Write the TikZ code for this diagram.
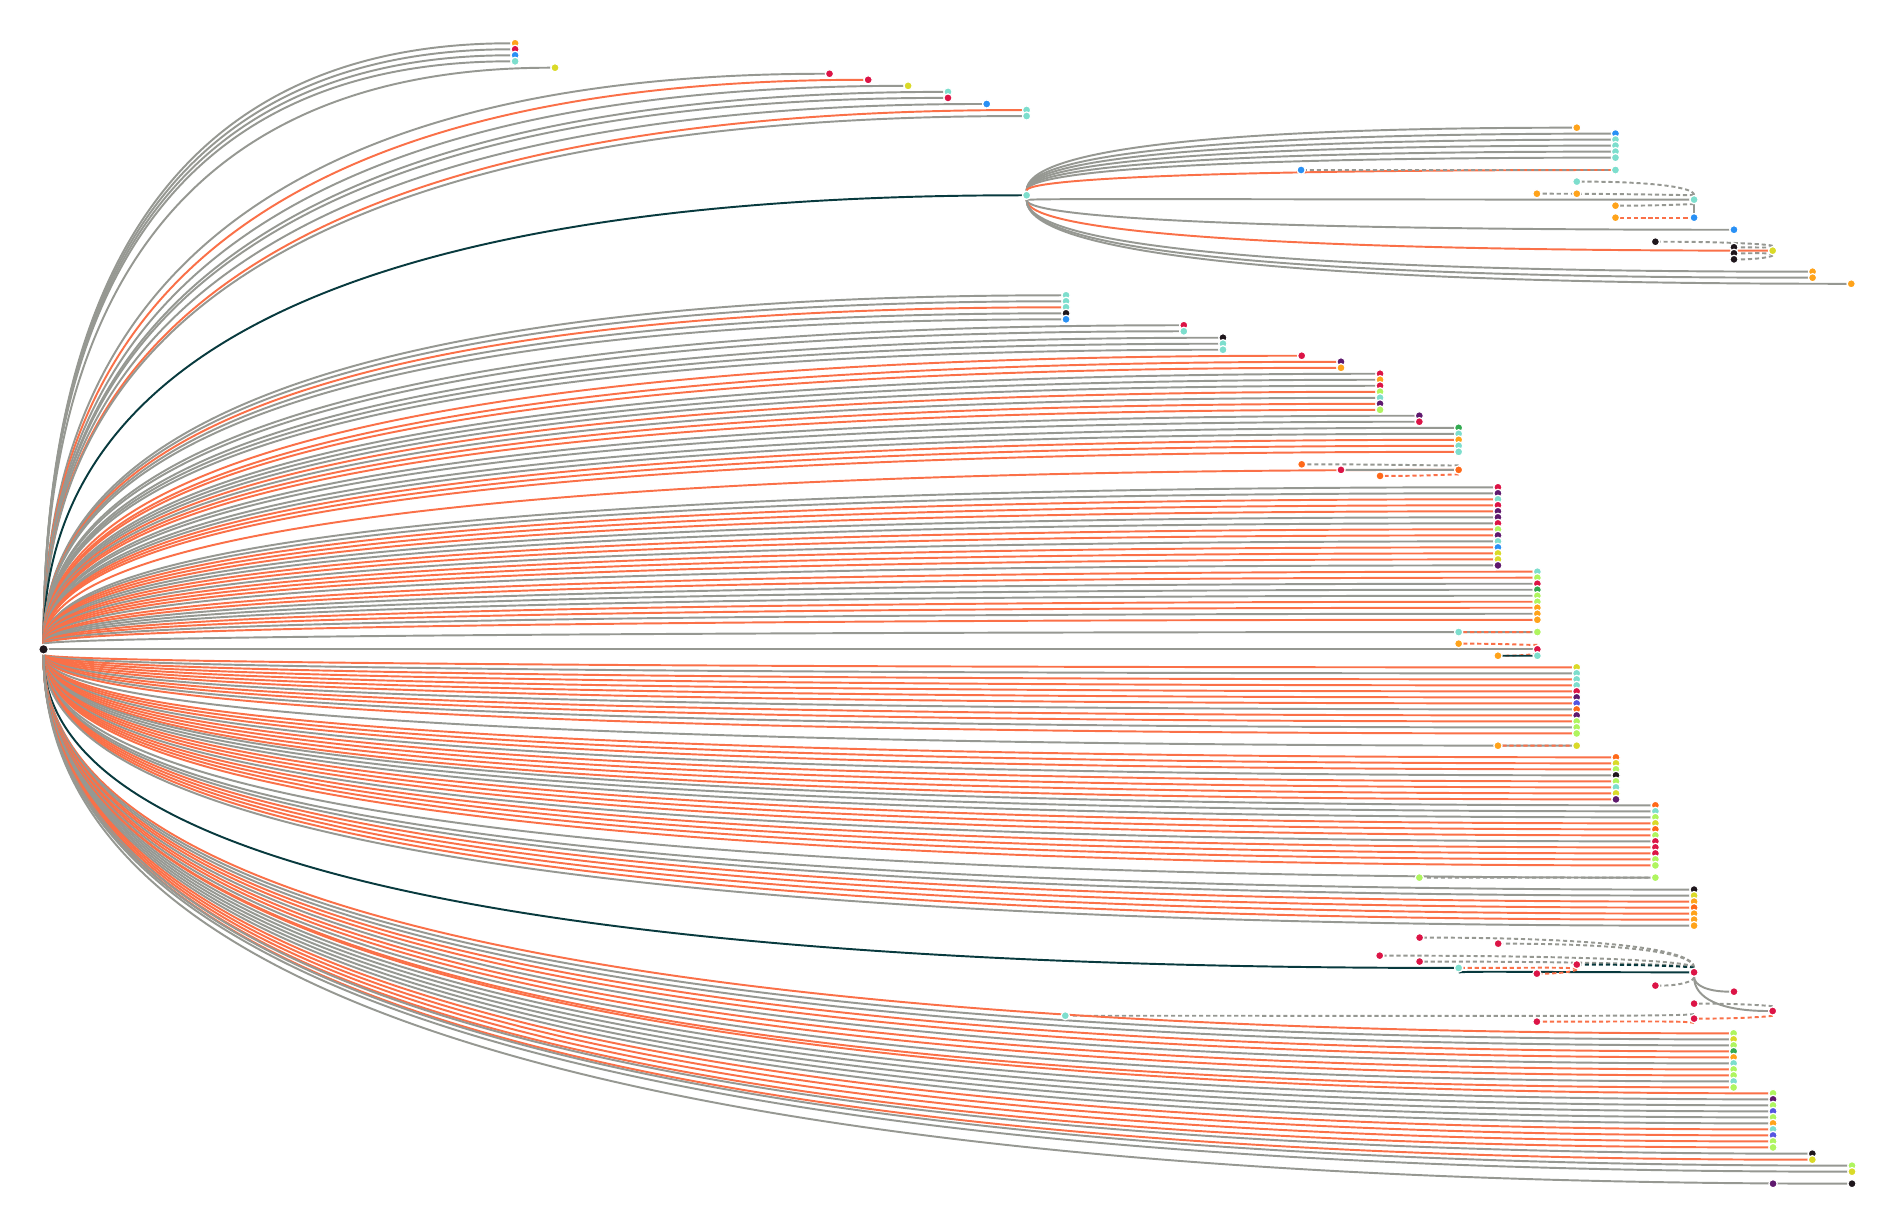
\documentclass[tikz,border=0pt]{standalone}
\usetikzlibrary{calc}
\pgfdeclarelayer{bg}
\pgfsetlayers{bg,main}

% line colours
\definecolor{lg}{RGB}{150,152,146}
\definecolor{lo}{RGB}{250,112,72}
\definecolor{ld}{RGB}{8,58,62}
% dot colours
\definecolor{dor}{RGB}{255,163,26}
\definecolor{drd}{RGB}{220,20,70}
\definecolor{dbl}{RGB}{40,144,245}
\definecolor{dtl}{RGB}{125,222,205}
\definecolor{dye}{RGB}{218,218,40}
\definecolor{dbk}{RGB}{30,22,28}
\definecolor{dpu}{RGB}{95,25,110}
\definecolor{dli}{RGB}{175,245,95}
\definecolor{dgr}{RGB}{50,170,80}
\definecolor{doe}{RGB}{255,105,25}
\definecolor{din}{RGB}{85,85,225}

\tikzset{
  leafdot/.style={circle, fill=#1, draw=white, line width=0.5pt,
    inner sep=0pt, minimum size=3.4pt},
  lnkline/.style={line width=0.8pt},
  dsh/.style={dash pattern=on 1.7pt off 1.2pt},
  bow/.style={to path={.. controls
    ($(\tikztostart)!2/3!(\tikztostart |- \tikztotarget)$) and
    ($(\tikztotarget)!2/3!(\tikztostart |- \tikztotarget)$) .. (\tikztotarget)}},
}

% a column of leaves under one parent: id, parent, x, first y, dot/line list
\newcommand{\fan}[5]{%
  \foreach \dc/\lc [count=\k] in {#5} {
    \pgfmathsetmacro{\yy}{#4+4.97*(\k-1)}
    \node[leafdot=d\dc] (#1\k) at (#3,\yy) {};
    \begin{pgfonlayer}{bg}
      \draw[lnkline, draw=l\lc] (#2) to[bow] (#1\k);
    \end{pgfonlayer}
  }}
% one extra link, drawn behind the dots
\newcommand{\lnk}[3]{%
  \begin{pgfonlayer}{bg}
    \draw[lnkline, #1] (#2) to[bow] (#3);
  \end{pgfonlayer}}

\begin{document}
\begin{tikzpicture}[x=0.5pt, y=-0.5pt]
  \begin{pgfonlayer}{bg}
    \fill[white] (0,0) rectangle (1568,1016);
  \end{pgfonlayer}
  \useasboundingbox (0,0) rectangle (1568,1016);
  \node[leafdot=dbk, minimum size=4pt] (root) at (36,537) {};

  % upper leaves
  \fan{a}{root}{426}{35.8}{or/g,rd/g,bl/g,tl/g}
  \fan{b}{root}{459}{56}{ye/g}
  \fan{c}{root}{686}{61}{rd/g}
  \fan{d}{root}{718}{66}{rd/o}
  \fan{e}{root}{751}{71}{ye/g}
  \fan{f}{root}{784}{76}{tl/g,rd/g}
  \fan{g}{root}{816}{86}{bl/g}
  \fan{h}{root}{849}{91}{tl/o,tl/g}

  % first sub-hub
  \node[leafdot=dtl] (hubA) at (849,161.5) {};
  \lnk{draw=ld}{root}{hubA}
  \fan{ha}{hubA}{1304}{105.6}{or/g}
  \fan{hb}{hubA}{1336}{110.5}{bl/g,tl/g,tl/g,tl/g,tl/g}
  \fan{hc}{hubA}{1336}{140.6}{tl/o}
  \node[leafdot=dtl] (hubB) at (1401,165.1) {};
  \lnk{draw=lg}{hubA}{hubB}
  \fan{hd}{hubA}{1434}{190}{bl/g}
  \node[leafdot=dye] (yeA) at (1466,207.3) {};
  \lnk{draw=lo}{hubA}{yeA}
  \fan{he}{hubA}{1499}{224.7}{or/g,or/g}
  \fan{hf}{hubA}{1531}{234.7}{or/g}
  \node[leafdot=dbl] (blA) at (1076,140.6) {};
  \lnk{draw=lg,dsh}{hc1}{blA}
  \node[leafdot=dtl] (tlA) at (1304,150.2) {};
  \lnk{draw=lg,dsh}{hubB}{tlA}
  \node[leafdot=dor] (orA) at (1271,160.2) {};
  \node[leafdot=dor] (orB) at (1304,160.2) {};
  \lnk{draw=lg,dsh}{hubB}{orA}
  \node[leafdot=dor] (orC) at (1336,170.1) {};
  \lnk{draw=lg,dsh}{hubB}{orC}
  \node[leafdot=dbl] (blB) at (1401,180) {};
  \lnk{draw=lg}{hubB}{blB}
  \node[leafdot=dor] (orD) at (1336,180) {};
  \lnk{draw=lo,dsh}{blB}{orD}
  \node[leafdot=dbk] (bkA) at (1369,199.9) {};
  \lnk{draw=lg,dsh}{yeA}{bkA}
  \foreach \k/\y in {1/204.5,2/209.5,3/214.5} {
    \node[leafdot=dbk] (bkB\k) at (1434,\y) {};
    \lnk{draw=lg,dsh}{yeA}{bkB\k}
  }

  % main body
  \fan{i}{root}{881.6}{244.2}{tl/g,tl/g,tl/o,bk/g,bl/g}
  \fan{j}{root}{979}{269}{rd/g,tl/g}
  \fan{k}{root}{1011.4}{279.3}{bk/g,tl/g,tl/g}
  \fan{l}{root}{1076.5}{294.2}{rd/o}
  \fan{m}{root}{1109}{299.2}{pu/o,or/o}
  \fan{n}{root}{1141.3}{309.1}{rd/g,or/g,rd/g,li/o,tl/g,pu/o,li/o}
  \fan{o}{root}{1173.8}{343.8}{pu/g,rd/g}
  \fan{p}{root}{1206.3}{353.8}{gr/g,tl/g,or/o,tl/o,tl/o}
  \fan{q}{root}{1206.3}{388.6}{oe/o}
  \node[leafdot=drd] (rdQ) at (1109,388.6) {};
  \lnk{draw=lg}{q1}{rdQ}
  \node[leafdot=doe] (oeQa) at (1076.5,384) {};
  \lnk{draw=lg,dsh}{q1}{oeQa}
  \node[leafdot=doe] (oeQb) at (1141.3,393.6) {};
  \lnk{draw=lo,dsh}{q1}{oeQb}
  \fan{r}{root}{1238.8}{403}{rd/g,pu/g,tl/o,rd/o,pu/o,pu/g,rd/g,li/o,pu/o,tl/g,bl/o,ye/o,ye/o,pu/g}
  \fan{s}{root}{1271.4}{472.8}{tl/o,li/o,rd/g,gr/g,li/g,li/o,or/o,or/g,or/o}
  \fan{t}{root}{1271.4}{522.7}{li/g}
  \node[leafdot=dtl] (tlT) at (1206.3,522.7) {};
  \lnk{draw=lo,dsh}{t1}{tlT}
  \fan{u}{root}{1271.4}{537}{rd/g}
  \node[leafdot=dor] (orU) at (1206.3,532.3) {};
  \lnk{draw=lo,dsh}{u1}{orU}
  \node[leafdot=dor] (orV) at (1238.8,542.3) {};
  \lnk{draw=lo,dsh}{u1}{orV}
  \node[leafdot=dtl] (tlU) at (1271.4,542.3) {};
  \lnk{draw=ld}{orV}{tlU}
  \fan{v}{root}{1303.9}{551.9}{ye/o,tl/g,tl/o,tl/o,rd/o,pu/o,in/o,oe/g,pu/o,li/o,li/g,li/o}
  \fan{w}{root}{1303.9}{616.7}{ye/g}
  \node[leafdot=dor] (orW) at (1238.8,616.7) {};
  \lnk{draw=lo,dsh}{w1}{orW}
  \fan{x}{root}{1336.4}{626.3}{oe/o,ye/o,li/o,bk/g,li/o,tl/o,ye/o,pu/o}
  \fan{y}{root}{1369}{666}{oe/g,tl/g,li/g,ye/o,oe/o,li/o,rd/g,rd/o,rd/o,li/o,li/o}
  \fan{z}{root}{1369}{725.8}{li/g}
  \node[leafdot=dli] (liZ) at (1173.8,725.8) {};
  \lnk{draw=lg,dsh}{z1}{liZ}
  \fan{aa}{root}{1401}{735.7}{bk/g,ye/g,or/o,oe/o,or/o,or/o,or/g}

  % second sub-hub
  \node[leafdot=dtl] (tlH) at (1206.3,800.5) {};
  \lnk{draw=ld}{root}{tlH}
  \node[leafdot=drd] (hubC) at (1401,804.1) {};
  \lnk{draw=ld}{tlH}{hubC}
  \foreach \n/\x/\y in {1/1174/775.4,2/1239/780.4,3/1141/790.3,4/1174/795.2,5/1369/815.1} {
    \node[leafdot=drd] (rdC\n) at (\x,\y) {};
    \lnk{draw=lg,dsh}{hubC}{rdC\n}
  }
  \node[leafdot=drd] (rdD) at (1304,797.7) {};
  \lnk{draw=ld,dsh}{hubC}{rdD}
  \lnk{draw=lo,dsh}{rdD}{tlH}
  \node[leafdot=drd] (rdE) at (1271,805.2) {};
  \lnk{draw=lo,dsh}{rdD}{rdE}
  \node[leafdot=drd] (rdF) at (1434,820.1) {};
  \lnk{draw=lg}{hubC}{rdF}
  \node[leafdot=drd] (rdG) at (1466,836.1) {};
  \lnk{draw=lg}{hubC}{rdG}
  \node[leafdot=drd] (rdH) at (1401,830) {};
  \lnk{draw=lg,dsh}{rdG}{rdH}
  \node[leafdot=drd] (rdI) at (1401,842.4) {};
  \lnk{draw=lo,dsh}{rdG}{rdI}
  \node[leafdot=dtl] (tlI) at (881,840) {};
  \lnk{draw=lg,dsh}{rdI}{tlI}
  \node[leafdot=drd] (rdJ) at (1271,844.9) {};
  \lnk{draw=lo,dsh}{rdI}{rdJ}

  % lower leaves
  \fan{ab}{root}{1433.7}{854.6}{li/o,ye/g,li/g,gr/o,or/o,tl/g,li/o,li/o,tl/g,li/o}
  \fan{ac}{root}{1466.3}{904.2}{li/o,pu/g,li/g,in/g,li/g,or/g,tl/o,in/o,li/o,li/o}
  \fan{ad}{root}{1498.8}{954.1}{bk/g,ye/o}
  \fan{ae}{root}{1531.6}{964}{li/g,ye/g}
  \fan{af}{root}{1531.6}{978.9}{bk/g}
  \node[leafdot=dpu] (puF) at (1466.3,978.9) {};
\end{tikzpicture}
\end{document}
